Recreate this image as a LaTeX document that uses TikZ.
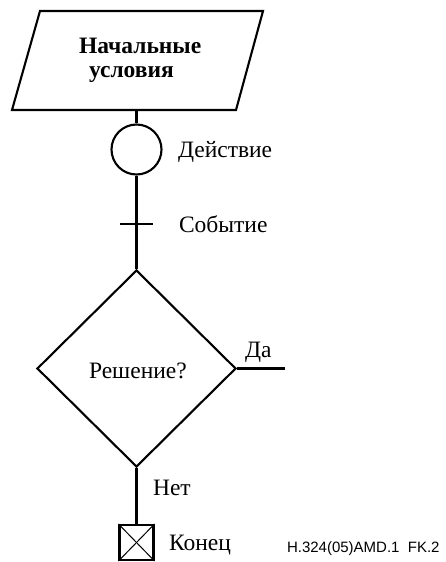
\documentclass[tikz,border=0pt]{standalone}
\usepackage{fontspec}
\setmainfont{Liberation Serif}
\newfontfamily\figsans{Liberation Sans}
\usetikzlibrary{shapes.geometric}
\begin{document}
\begin{tikzpicture}[x=1pt,y=-1pt,
  line width=2.1pt,
  lbl/.style={inner sep=0pt,anchor=base west,font=\fontsize{23.5}{28}\selectfont},
  actcircle/.style={draw,circle,minimum size=50pt,inner sep=0pt},
  decdiamond/.style={draw,diamond,minimum width=199pt,minimum height=197pt,inner sep=0pt},
  endbox/.style={draw,rectangle,minimum width=34pt,minimum height=35pt,inner sep=0pt}]
\useasboundingbox (0,0) rectangle (446,562);

% start conditions (parallelogram)
\coordinate (p1) at (40,11);
\coordinate (p2) at (263,11);
\coordinate (p3) at (236,110);
\coordinate (p4) at (12,110);
\coordinate (pout) at (136.5,110);
\draw[line join=miter] (p1) -- (p2) -- (p3) -- (p4) -- cycle;
\node[lbl,font=\fontsize{23.5}{28}\selectfont\bfseries] (start1) at (78,53) {Начальные};
\node[lbl,font=\fontsize{23.5}{28}\selectfont\bfseries] (start2) at (88,77) {условия};

% action
\node[actcircle] (act) at (136.5,149.5) {};
\node[lbl] (actlbl) at (177,157) {Действие};

% event tick
\coordinate (evl) at (120,224);
\coordinate (evr) at (153,224);
\node[lbl] (evlbl) at (178,232) {Событие};

% decision
\node[decdiamond] (dec) at (136.5,368.5) {};
\node[lbl] (declbl) at (88,378) {Решение?};
\coordinate (yes) at (285,368.5);
\node[lbl] (yeslbl) at (244,357) {Да};
\node[lbl] (nolbl) at (152,495) {Нет};

% end
\node[endbox] (end) at (136.5,542.5) {};
\node[lbl] (endlbl) at (168,550) {Конец};

% connectors
\draw (pout) -- (act.north);
\draw (act.south) -- (dec.north);
\draw (evl) -- (evr);
\draw (dec.east) -- (yes);
\draw (dec.south) -- (end.north);
\draw[line width=1pt] (end.north west) -- (end.south east);
\draw[line width=1pt] (end.south west) -- (end.north east);

% figure tag
\node[inner sep=0pt,anchor=base west,font=\figsans\fontsize{15}{18}\selectfont] (tag) at (286,552) {H.324(05)AMD.1\ \ FK.2};
\end{tikzpicture}
\end{document}
